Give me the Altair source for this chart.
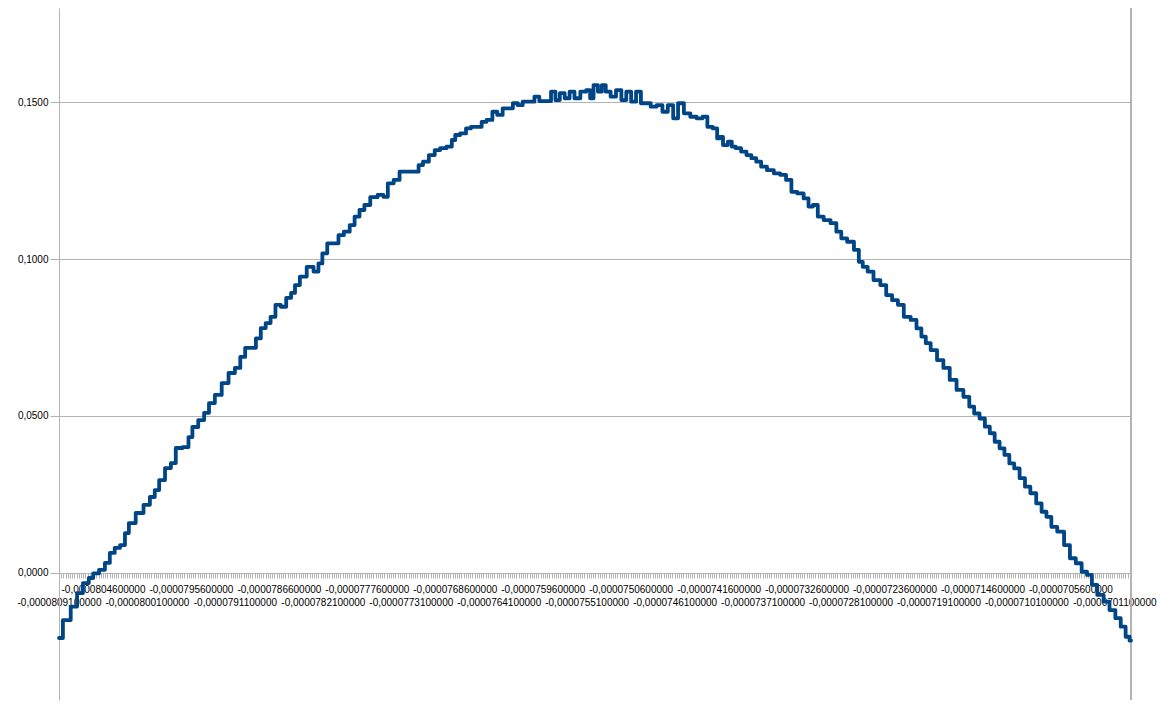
import altair as alt
import pandas as pd

# Category axis: x values start at -0,0000809100000 and advance by 1e-8 per category
X_START = -0.0000809100000
X_STEP = 0.0000000100000
X_LAST_INDEX = 1097
TICK_STEP = 0.0000000225000      # one small tick every 2.25 categories
LABEL_EVERY = 20                 # a label every 20 ticks (45 categories)

# category indices
cat_index = [
    0, 8, 16, 21, 28, 33, 37, 45, 49, 55, 59, 66, 69, 74, 83, 90, 96, 100, 105, 112,
    117, 122, 131, 134, 139, 146, 151, 156, 163, 170, 177, 183, 188, 193, 199,
    204, 209, 214, 219, 224, 230, 235, 240, 243, 250, 257, 264, 267, 272, 277,
    284, 288, 295, 300, 305, 310, 315, 322, 330, 334, 339, 346, 351, 359, 366,
    370, 375, 382, 387, 393, 400, 404, 407, 414, 419,
    424, 431, 434, 441, 446, 451, 457, 462, 467, 472, 477, 484, 489, 494, 501,
    506, 510, 515, 520, 525, 530, 537, 542, 545, 549, 554, 557, 562, 567, 573,
    578, 583, 588, 593, 598, 603, 608, 615, 620, 626, 631, 636, 643, 649, 656,
    661, 666, 672, 675,
    677, 682, 687, 690, 695, 701, 706, 711, 716, 721, 728, 735, 741, 747, 752,
    759, 765, 769, 774, 779, 786, 793, 798, 803, 810, 817, 820, 825, 830, 837,
    844, 849, 856, 861, 868, 875, 880, 885, 889, 895, 902, 908,
    915, 922, 929, 934, 939, 945, 950, 955, 960, 965, 970, 975, 980, 986, 991,
    997, 1003, 1008, 1013, 1018, 1025, 1032, 1037, 1044, 1049, 1055, 1059, 1066,
    1072, 1078, 1084, 1089, 1094, 1097,
]

# series values
values = [
    -0.0207, -0.0150, -0.0107, -0.0064, -0.0032, -0.0016, -0.0001, 0.0010, 0.0032, 0.0064,
    0.0080, 0.0089, 0.0127, 0.0159, 0.0191, 0.0217, 0.0242, 0.0264, 0.0296, 0.0334,
    0.0350, 0.0398, 0.0401, 0.0433, 0.0465, 0.0487, 0.0510, 0.0541, 0.0567, 0.0605,
    0.0637, 0.0653, 0.0688, 0.0717, 0.0717,
    0.0747, 0.0780, 0.0796, 0.0816, 0.0854, 0.0848, 0.0876, 0.0892, 0.0917, 0.0944,
    0.0975, 0.0960, 0.0986, 0.1018, 0.1050, 0.1050, 0.1076, 0.1087, 0.1108, 0.1135,
    0.1156, 0.1172, 0.1197, 0.1204, 0.1198, 0.1241, 0.1252, 0.1278, 0.1278, 0.1278,
    0.1299, 0.1310, 0.1331, 0.1347, 0.1353, 0.1358, 0.1379, 0.1395, 0.1400, 0.1416,
    0.1421, 0.1421, 0.1437, 0.1443, 0.1469, 0.1459, 0.1480, 0.1480, 0.1496, 0.1490,
    0.1501, 0.1501, 0.1517, 0.1503, 0.1503, 0.1533, 0.1506, 0.1528, 0.1512, 0.1533,
    0.1512, 0.1533, 0.1538, 0.1512, 0.1554, 0.1533, 0.1554, 0.1533, 0.1517, 0.1538,
    0.1506, 0.1533, 0.1501, 0.1533, 0.1496, 0.1496, 0.1485, 0.1490, 0.1469, 0.1490,
    0.1448, 0.1496, 0.1464, 0.1453, 0.1448, 0.1453, 0.1421, 0.1416, 0.1384,
    0.1389, 0.1363, 0.1374, 0.1358, 0.1353, 0.1342, 0.1331, 0.1321, 0.1310, 0.1294,
    0.1283, 0.1273, 0.1268, 0.1252, 0.1214, 0.1209, 0.1193, 0.1167, 0.1172, 0.1135,
    0.1124, 0.1114, 0.1087, 0.1066, 0.1055, 0.1029, 0.0991, 0.0975, 0.0960, 0.0933,
    0.0917, 0.0885, 0.0869, 0.0854, 0.0816, 0.0806, 0.0779, 0.0753, 0.0732, 0.0710,
    0.0678, 0.0653,
    0.0615, 0.0583, 0.0561, 0.0530, 0.0508, 0.0492, 0.0466, 0.0445, 0.0418, 0.0397,
    0.0376, 0.0349, 0.0333, 0.0302, 0.0275, 0.0254, 0.0222, 0.0195, 0.0179, 0.0147,
    0.0132, 0.0089, 0.0047, 0.0031, 0.0004, -0.0006, -0.0038, -0.0070, -0.0091, -0.0118,
    -0.0144, -0.0171, -0.0203, -0.0215,
]

y_ticks = [0.0, 0.05, 0.10, 0.15]
y_domain = [-0.04045, 0.17994]

x_end = round(X_START + X_LAST_INDEX * X_STEP, 15)
x_domain = [X_START, x_end]
n_ticks = int((X_LAST_INDEX * X_STEP) / TICK_STEP) + 1
x_ticks = [round(X_START + i * TICK_STEP, 15) for i in range(n_ticks)]

df = pd.DataFrame({
    "x": [round(X_START + k * X_STEP, 15) for k in cat_index],
    "y": values,
})

GRAY = "#b3b3b3"
LINE = "#004586"

idx = f"round((datum.value - ({X_START})) / {TICK_STEP})"
lab = "'-' + replace(format(-datum.value, '.13f'), '.', ',')"
x_label_expr = (
    f"({idx} % {LABEL_EVERY} != 0) ? '' : "
    f"((({idx} / {LABEL_EVERY}) % 2 == 0) ? ['', {lab}] : {lab})"
)

line = alt.Chart(df).mark_line(
    color=LINE, strokeWidth=3.8, strokeJoin="round", strokeCap="round",
    interpolate="step",
).encode(
    x=alt.X(
        "x:Q",
        scale=alt.Scale(domain=x_domain, nice=False, zero=False),
        axis=alt.Axis(
            title=None,
            values=x_ticks,
            tickCount=5000,
            labelExpr=x_label_expr,
            labelOverlap=False,
            labelFlush=False,
            labelBound=False,
            labelAlign="center",
            labelBaseline="top",
            labelFontSize=10,
            labelFont="Liberation Sans",
            labelColor="#000000",
            labelLineHeight=13.5,
            labelPadding=6,
            tickSize=5,
            tickColor=GRAY,
            domainColor=GRAY,
            grid=False,
            offset=-127,
        ),
    ),
    y=alt.Y(
        "y:Q",
        scale=alt.Scale(domain=y_domain, nice=False, zero=False),
        axis=alt.Axis(
            title=None,
            values=y_ticks,
            labelExpr="replace(format(datum.value, '.4f'), '.', ',')",
            labelFontSize=10,
            labelFont="Liberation Sans",
            labelColor="#000000",
            labelPadding=2,
            tickSize=9,
            tickColor=GRAY,
            domainColor=GRAY,
            grid=True,
            gridColor=GRAY,
        ),
    ),
)

right_border = alt.Chart(df).mark_rule(color=GRAY, strokeWidth=1).encode(
    x=alt.XDatum(x_end, type="quantitative")
)

chart = alt.layer(right_border, line).properties(
    width=1072,
    height=692,
    autosize=alt.AutoSizeParams(type="none"),
    padding={"left": 51, "top": 0, "right": 30, "bottom": 1},
    background="#ffffff",
).configure_view(stroke=None)

chart.save("out.html", embed_options={"renderer": "svg", "actions": False})
